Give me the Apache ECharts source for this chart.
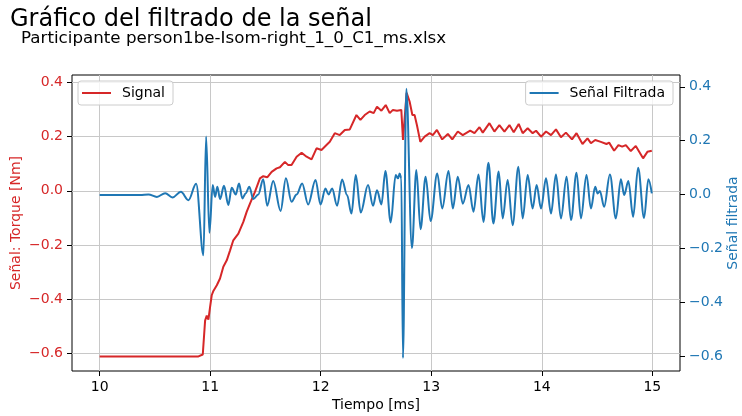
<!DOCTYPE html>
<html>
<head>
<meta charset="utf-8">
<script src="https://cdn.jsdelivr.net/npm/echarts@6/dist/echarts.min.js"></script>
<style>
  html, body { margin: 0; padding: 0; background: #fff; overflow: hidden; }
  #chart { width: 742px; height: 416px; }
</style>
</head>
<body>
<div id="chart"></div>
<script>
// Raw torque signal (left axis)
const sigTime = [
  10.000, 10.894, 10.933, 10.954, 10.969, 10.984, 10.999, 11.014, 11.029, 11.060,
  11.089, 11.119, 11.150, 11.180, 11.209, 11.255, 11.300, 11.330, 11.360, 11.405,
  11.450, 11.480, 11.516, 11.556, 11.601, 11.631, 11.676, 11.706, 11.736, 11.782,
  11.827, 11.872, 11.917, 11.962, 12.007, 12.052, 12.082, 12.127, 12.172, 12.218,
  12.263, 12.323, 12.359, 12.398, 12.443, 12.479, 12.509, 12.549, 12.588, 12.624,
  12.653, 12.690, 12.729, 12.744, 12.777, 12.804, 12.829, 12.849, 12.870, 12.901,
  12.940, 12.985, 13.014, 13.051, 13.099, 13.150, 13.190, 13.240, 13.285, 13.352,
  13.391, 13.436, 13.466, 13.526, 13.571, 13.616, 13.662, 13.707, 13.746, 13.791,
  13.827, 13.872, 13.917, 13.948, 13.993, 14.038, 14.083, 14.128, 14.173, 14.218,
  14.273, 14.314, 14.368, 14.413, 14.444, 14.483, 14.534, 14.585, 14.609, 14.654,
  14.693, 14.727, 14.760, 14.805, 14.850, 14.916, 14.955, 14.995
];
const sigValue = [
  -0.612, -0.612, -0.605, -0.480, -0.461, -0.476, -0.430, -0.386, -0.370, -0.349,
  -0.324, -0.281, -0.257, -0.220, -0.183, -0.158, -0.115, -0.078, -0.047, -0.004,
  0.046, 0.054, 0.050, 0.070, 0.083, 0.087, 0.107, 0.095, 0.095, 0.126,
  0.141, 0.126, 0.116, 0.157, 0.151, 0.169, 0.181, 0.213, 0.206, 0.225,
  0.227, 0.280, 0.262, 0.280, 0.293, 0.287, 0.311, 0.296, 0.317, 0.287,
  0.299, 0.296, 0.299, 0.188, 0.362, 0.330, 0.280, 0.280, 0.243, 0.181,
  0.200, 0.213, 0.206, 0.225, 0.190, 0.210, 0.190, 0.219, 0.206, 0.222,
  0.213, 0.235, 0.215, 0.250, 0.219, 0.243, 0.219, 0.243, 0.216, 0.247,
  0.213, 0.231, 0.213, 0.222, 0.200, 0.219, 0.206, 0.227, 0.198, 0.215,
  0.190, 0.213, 0.173, 0.194, 0.176, 0.188, 0.181, 0.173, 0.178, 0.148,
  0.169, 0.163, 0.169, 0.147, 0.166, 0.120, 0.144, 0.148
];

// Filtered signal (right axis)
const filtTime = [
  10.000, 10.367, 10.442, 10.518, 10.593, 10.659, 10.735, 10.803, 10.873, 10.939,
  10.963, 10.993, 11.023, 11.044, 11.065, 11.089, 11.125, 11.164, 11.195, 11.231,
  11.261, 11.291, 11.321, 11.354, 11.390, 11.435, 11.480, 11.516, 11.570, 11.637,
  11.685, 11.736, 11.782, 11.832, 11.886, 11.953, 11.998, 12.043, 12.070, 12.103,
  12.148, 12.193, 12.238, 12.278, 12.317, 12.362, 12.428, 12.473, 12.509, 12.549,
  12.585, 12.633, 12.678, 12.699, 12.714, 12.729, 12.744, 12.774, 12.825, 12.865,
  12.903, 12.949, 12.994, 13.054, 13.099, 13.156, 13.195, 13.240, 13.285, 13.337,
  13.382, 13.427, 13.472, 13.517, 13.562, 13.610, 13.646, 13.691, 13.736, 13.788,
  13.827, 13.872, 13.917, 13.953, 13.993, 14.038, 14.083, 14.128, 14.173, 14.224,
  14.264, 14.314, 14.354, 14.404, 14.444, 14.483, 14.504, 14.525, 14.564, 14.616,
  14.670, 14.715, 14.745, 14.783, 14.826, 14.871, 14.925, 14.964, 14.995
];
const filtValue = [
  -0.002, -0.002, 0.000, -0.009, 0.005, -0.011, 0.010, -0.021, 0.040, -0.226,
  0.215, -0.142, 0.035, -0.009, 0.029, -0.017, 0.032, -0.039, 0.025, 0.000,
  0.041, -0.015, 0.004, 0.029, -0.017, 0.000, 0.057, -0.042, 0.050, -0.061,
  0.060, -0.027, 0.000, 0.041, -0.037, 0.054, -0.037, 0.022, 0.000, 0.022,
  -0.042, 0.056, -0.002, -0.071, 0.072, -0.067, 0.035, -0.042, 0.016, -0.037,
  0.087, -0.104, 0.072, 0.060, 0.078, 0.060, -0.608, 0.393, -0.199, 0.091,
  -0.129, 0.066, -0.099, 0.078, -0.052, 0.087, -0.052, 0.066, -0.034, 0.035,
  -0.064, 0.074, -0.102, 0.118, -0.108, 0.085, -0.089, 0.054, -0.114, 0.103,
  -0.089, 0.072, -0.052, 0.035, -0.052, 0.060, -0.071, 0.074, -0.089, 0.066,
  -0.095, 0.081, -0.089, 0.072, -0.052, 0.029, 0.004, 0.013, -0.046, 0.074,
  -0.089, 0.057, -0.002, 0.050, -0.083, 0.099, -0.087, 0.057, 0.004
];

// Tick positions
const xTicks = [10, 11, 12, 13, 14, 15];
const leftTicks = [-0.6, -0.4, -0.2, 0.0, 0.2, 0.4];
const rightTicks = [-0.6, -0.4, -0.2, 0.0, 0.2, 0.4];

const RED = '#d62728';
const BLUE = '#1f77b4';
const FONT = 'DejaVu Sans';

const fmt = v => (v < 0 ? '\u2212' : '') + Math.abs(v).toFixed(1);

const chart = echarts.init(document.getElementById('chart'), null, { renderer: 'canvas' });

const legendCommon = {
  top: 81,
  orient: 'horizontal',
  icon: 'rect',
  itemWidth: 29,
  itemHeight: 2,
  backgroundColor: 'rgba(255,255,255,0.8)',
  borderColor: '#cccccc',
  borderWidth: 1,
  borderRadius: 3,
  padding: [5, 8, 5, 4],
  textStyle: { fontFamily: FONT, fontSize: 14, color: '#000', padding: [0, 0, 0, 6] },
  selectedMode: false
};

chart.setOption({
  animation: false,
  backgroundColor: '#fff',
  title: [
    {
      text: 'Gráfico del filtrado de la señal',
      left: 10, top: 8, padding: 0,
      textStyle: { fontFamily: FONT, fontSize: 24, fontWeight: 'normal', color: '#000', lineHeight: 24 }
    },
    {
      text: 'Participante person1be-Isom-right_1_0_C1_ms.xlsx',
      left: 21, top: 30, padding: 0,
      textStyle: { fontFamily: FONT, fontSize: 16.7, fontWeight: 'normal', color: '#000', lineHeight: 17 }
    }
  ],
  legend: [
    Object.assign({}, legendCommon, { left: 78, data: ['Signal'] }),
    Object.assign({}, legendCommon, { right: 742 - 673, data: ['Señal Filtrada'] })
  ],
  grid: {
    left: 72, right: 62, top: 75, bottom: 45,
    outerBoundsMode: 'none',
    containLabel: false,
    show: true, borderColor: '#000', borderWidth: 1, backgroundColor: 'transparent'
  },
  xAxis: {
    type: 'value',
    min: 9.75, max: 15.25,
    name: 'Tiempo [ms]',
    nameLocation: 'middle',
    nameGap: 27,
    nameMoveOverlap: false,
    nameTextStyle: { fontFamily: FONT, fontSize: 14, color: '#000' },
    axisLine: { show: false, onZero: false },
    axisTick: { show: true, inside: false, length: 5, customValues: xTicks, lineStyle: { color: '#000', width: 1 } },
    axisLabel: { customValues: xTicks, margin: 9, fontFamily: FONT, fontSize: 14, color: '#000', formatter: v => String(v) },
    splitLine: { show: true, lineStyle: { color: '#c8c8c8', width: 1 } }
  },
  yAxis: [
    {
      type: 'value',
      position: 'left',
      min: -0.666, max: 0.428,
      name: 'Señal: Torque [Nm]',
      nameLocation: 'middle',
      nameRotate: 90,
      nameGap: 49,
      nameMoveOverlap: false,
      nameTextStyle: { fontFamily: FONT, fontSize: 14, color: RED },
      axisLine: { show: false, onZero: false },
      axisTick: { show: true, length: 5, customValues: leftTicks, lineStyle: { color: '#000', width: 1 } },
      axisLabel: { customValues: leftTicks, margin: 9, fontFamily: FONT, fontSize: 14, color: RED, formatter: fmt },
      splitLine: { show: true, lineStyle: { color: '#c8c8c8', width: 1 } }
    },
    {
      type: 'value',
      position: 'right',
      min: -0.656, max: 0.444,
      name: 'Señal filtrada',
      nameLocation: 'middle',
      nameRotate: 90,
      nameGap: 46,
      nameMoveOverlap: false,
      nameTextStyle: { fontFamily: FONT, fontSize: 14, color: BLUE },
      axisLine: { show: false, onZero: false },
      axisTick: { show: true, length: 5, customValues: rightTicks, lineStyle: { color: '#000', width: 1 } },
      axisLabel: { customValues: rightTicks, margin: 9, fontFamily: FONT, fontSize: 14, color: BLUE, formatter: fmt },
      splitLine: { show: false }
    }
  ],
  series: [
    {
      name: 'Signal',
      type: 'line',
      yAxisIndex: 0,
      data: sigTime.map((t, i) => [t, sigValue[i]]),
      showSymbol: false,
      symbol: 'none',
      color: RED,
      lineStyle: { color: RED, width: 2 },
      z: 2
    },
    {
      name: 'Señal Filtrada',
      type: 'line',
      yAxisIndex: 1,
      data: filtTime.map((t, i) => [t, filtValue[i]]),
      showSymbol: false,
      symbol: 'none',
      smooth: 0.35,
      smoothMonotone: 'x',
      color: BLUE,
      lineStyle: { color: BLUE, width: 2 },
      z: 3
    }
  ]
});
</script>
</body>
</html>
